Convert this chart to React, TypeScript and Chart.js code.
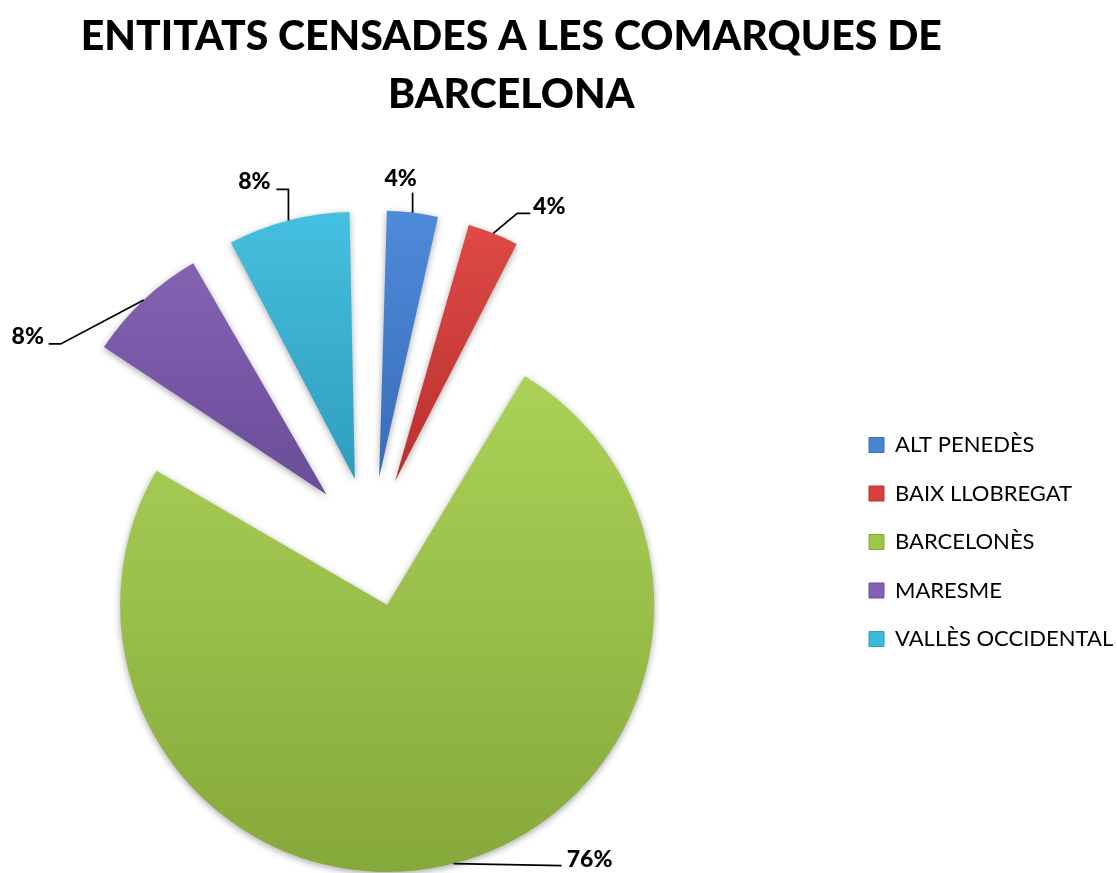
import React, { useEffect, useRef } from 'react';
import { Chart, registerables } from 'chart.js';

Chart.register(...registerables);

// ---- data ----
const categories = ['ALT PENEDÈS', 'BAIX LLOBREGAT', 'BARCELONÈS', 'MARESME', 'VALLÈS OCCIDENTAL'];
const entityCounts = [1, 1, 19, 2, 2];
const titleLines = ['ENTITATS CENSADES A LES COMARQUES DE', 'BARCELONA'];

// ---- style ----
const sliceColors = ['#4A85D2', '#D9413E', '#9DC74A', '#8261B1', '#3DB9DA'];
const sliceLight = ['#4E8BDA', '#E04B47', '#ABD257', '#8A69B9', '#45C0E0'];
const sliceDark = ['#3A6CB8', '#B8302E', '#86A93B', '#6C4D9A', '#2F9CBD'];
const gradStops = [
  [0.24, 0.62],
  [0.24, 0.62],
  [0.29, 0.98],
  [0.2, 0.6],
  [0.24, 0.62],
];

const W = 1117;
const H = 873;
const SHIFT_L = 120; // canvas extends beyond the left edge of the page
const SHIFT_R = 20; // and beyond the right edge
const PIE_R = 267;
const PIE_CX = 371; // page coordinates
const PIE_CY = 542;
const EXPLODE = 65; // px translation of each slice
const FONT = 'Lato, "Open Sans", sans-serif';

const LEGEND_FONT_SIZE = 22;
const LEGEND_BOX = 15;
const LEGEND_PAD = 26.5;
const LEGEND_BOX_X = 869; // page coordinates

// label leader geometry relative to the slice's outer mid point
const labelLayout = [
  { path: [[0, -20]], text: [-12, -34] },
  { path: [[24, -20], [37, -20]], text: [56, -27] },
  { path: [[108, 2]], text: [136, -4] },
  { path: [[-83, 44], [-95, 44]], text: [-116, 37] },
  { path: [[0, -31], [-12, -31]], text: [-34, -39] },
];

const radiusFixPlugin = {
  id: 'radiusFix',
  afterDatasetUpdate(chart: any, args: any) {
    const meta = chart.getDatasetMeta(args.index);
    meta.data.forEach((arc: any) => {
      const fix = 1 - Math.sin(Math.min(Math.PI, arc.circumference || 0));
      arc.outerRadius = PIE_R - EXPLODE * fix;
    });
  },
};

const shadowPlugin = {
  id: 'sliceShadow',
  beforeDatasetDraw(chart: any) {
    const ctx = chart.ctx;
    ctx.save();
    ctx.shadowColor = 'rgba(0,0,0,0.35)';
    ctx.shadowBlur = 7;
    ctx.shadowOffsetX = 0;
    ctx.shadowOffsetY = 2;
  },
  afterDatasetDraw(chart: any) {
    chart.ctx.restore();
  },
};

const labelPlugin = {
  id: 'pctLabels',
  afterDatasetsDraw(chart: any) {
    const ctx = chart.ctx;
    const meta = chart.getDatasetMeta(0);
    const values = chart.data.datasets[0].data as number[];
    const total = values.reduce((a, b) => a + b, 0);
    ctx.save();
    meta.data.forEach((arc: any, i: number) => {
      const mid = (arc.startAngle + arc.endAngle) / 2;
      const cx = arc.x + Math.cos(mid) * EXPLODE;
      const cy = arc.y + Math.sin(mid) * EXPLODE;
      const ax = cx + Math.cos(mid) * PIE_R;
      const ay = cy + Math.sin(mid) * PIE_R;
      const lay = labelLayout[i];
      ctx.beginPath();
      ctx.moveTo(ax, ay);
      lay.path.forEach(([dx, dy]) => ctx.lineTo(ax + dx, ay + dy));
      ctx.strokeStyle = '#000';
      ctx.lineWidth = 1.75;
      ctx.stroke();
      const pct = Math.round((values[i] / total) * 100) + '%';
      ctx.font = `900 23px ${FONT}`;
      ctx.fillStyle = '#000';
      ctx.textAlign = 'center';
      ctx.textBaseline = 'middle';
      ctx.fillText(pct, ax + lay.text[0], ay + lay.text[1]);
    });
    ctx.restore();
  },
};

export default function App() {
  const ref = useRef<HTMLCanvasElement | null>(null);
  const CW = W + SHIFT_L + SHIFT_R;

  useEffect(() => {
    const canvas = ref.current;
    if (!canvas) return;

    const m = document.createElement('canvas').getContext('2d')!;
    m.font = `${LEGEND_FONT_SIZE}px ${FONT}`;
    const maxW = Math.max(...categories.map((c) => m.measureText(c).width));
    const legendLeft = LEGEND_BOX_X + SHIFT_L - LEGEND_PAD;
    const legendWidth = LEGEND_PAD + LEGEND_BOX + LEGEND_FONT_SIZE / 2 + maxW + 10;
    const padRight = CW - legendLeft - legendWidth;
    const padLeft = 2 * (PIE_CX + SHIFT_L) - legendLeft;

    const chart = new Chart(canvas, {
      type: 'pie',
      data: {
        labels: categories,
        datasets: [
          {
            data: entityCounts,
            borderWidth: 0,
            offset: EXPLODE * 4,
            backgroundColor: (c: any) => {
              const i = c.dataIndex;
              if (i === undefined) return sliceColors[0];
              const g = c.chart.ctx.createLinearGradient(0, 100, 0, 820);
              g.addColorStop(gradStops[i][0], sliceLight[i]);
              g.addColorStop(gradStops[i][1], sliceDark[i]);
              return g;
            },
            hoverOffset: 0,
          } as any,
        ],
      },
      options: {
        animation: false,
        responsive: false,
        devicePixelRatio: 1,
        radius: PIE_R,
        layout: { padding: { left: padLeft, right: padRight, top: 0, bottom: 0 } },
        events: [],
        plugins: {
          title: {
            display: true,
            text: titleLines,
            color: '#000',
            font: { family: FONT, size: 41, weight: '900', lineHeight: 58 / 41 },
            padding: { top: 8, bottom: 2 * PIE_CY - H - 124 },
          },
          legend: {
            display: true,
            position: 'right',
            fullSize: false,
            labels: {
              boxWidth: LEGEND_BOX,
              boxHeight: LEGEND_BOX,
              padding: LEGEND_PAD,
              color: '#000',
              font: { family: FONT, size: LEGEND_FONT_SIZE },
              generateLabels: () =>
                categories.map((c, i) => ({
                  text: c,
                  fillStyle: sliceColors[i],
                  strokeStyle: sliceDark[i],
                  lineWidth: 1,
                  hidden: false,
                  index: i,
                  fontColor: '#000',
                })),
            },
          },
          tooltip: { enabled: false },
        },
      } as any,
      plugins: [radiusFixPlugin, shadowPlugin, labelPlugin],
    });
    return () => chart.destroy();
  }, []);

  return (
    <div style={{ position: 'absolute', left: 0, top: 0, width: W, height: H, overflow: 'hidden', background: '#fff' }}>
      <canvas
        ref={ref}
        width={CW}
        height={H}
        style={{ display: 'block', position: 'absolute', left: -SHIFT_L, top: 0 }}
      />
    </div>
  );
}
